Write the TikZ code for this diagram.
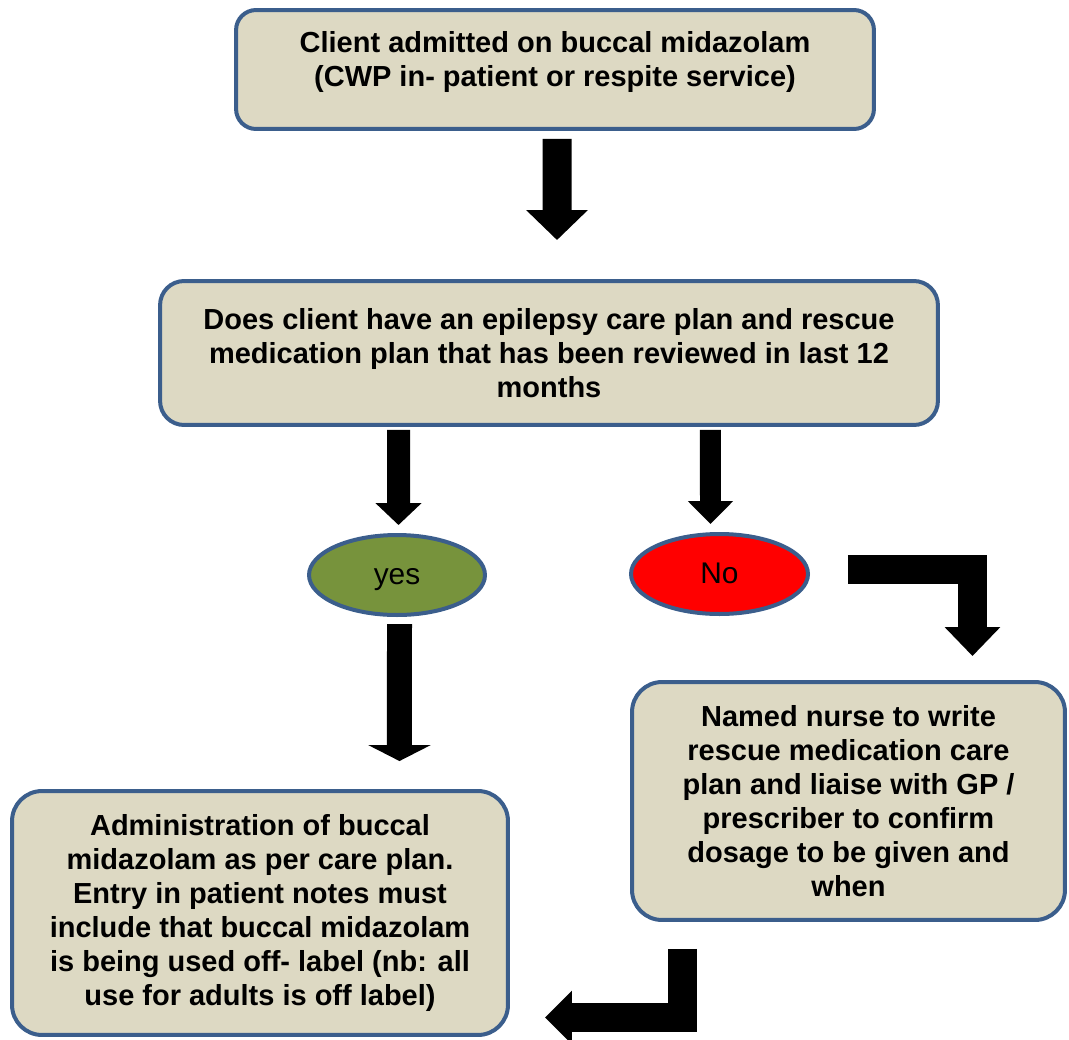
\documentclass[tikz,border=0pt]{standalone}
\usepackage{fontspec}
\setmainfont{Liberation Sans}
\usepackage{xcolor}
\usetikzlibrary{arrows.meta,shapes.geometric}

\definecolor{boxfill}{RGB}{221,217,195}
\definecolor{boxline}{RGB}{59,94,140}
\definecolor{yesgreen}{RGB}{119,147,60}
\definecolor{nored}{RGB}{255,0,0}

\tikzset{
  stepbox/.style={draw=boxline, fill=boxfill, line width=0.08cm, rounded corners=#1,
    align=center, inner sep=0pt, font=\fontsize{16.5}{19.3}\selectfont\bfseries},
  answer/.style={ellipse, draw=boxline, line width=0.08cm, inner sep=0pt,
    text height=1.2em, text depth=0.1em,
    minimum width=3.52cm, minimum height=1.6cm, font=\fontsize{17}{20}\selectfont},
  blockarr/.style={draw=black, line width=0.58cm, line join=miter,
    -{Triangle[width=1.2cm,length=0.6cm]}}
}

\begin{document}
\begin{tikzpicture}[x=0.02cm,y=-0.02cm]
\useasboundingbox (0,0) rectangle (1069,1039);

\node[stepbox=0.4cm, minimum width=12.76cm, minimum height=2.38cm] (admit) at (555,69.5)
  {Client admitted on buccal midazolam\\(CWP in- patient or respite service)\\[-7pt]\mbox{}};
\node[stepbox=0.48cm, minimum width=15.56cm, minimum height=2.88cm] (plan) at (549,353)
  {Does client have an epilepsy care plan and rescue\\medication plan that has been reviewed in last 12\\months};
\node[answer, fill=yesgreen] (yes) at (397,575) {yes};
\node[answer, fill=nored, minimum width=3.54cm] (no) at (719.5,574) {No};
\node[stepbox=0.6cm, minimum width=9.92cm, minimum height=4.88cm] (admin) at (260,913)
  {Administration of buccal\\midazolam as per care plan.\\Entry in patient notes must\\include that buccal midazolam\\is being used off- label (nb: all\\use for adults is off label)};
\node[stepbox=0.6cm, minimum width=8.66cm, minimum height=4.76cm] (nurse) at (848.5,801)
  {Named nurse to write\\rescue medication care\\plan and liaise with GP /\\prescriber to confirm\\dosage to be given and\\when};

\draw[blockarr] ([xshift=0.04cm,yshift=-0.16cm]admit.south) -- ([xshift=0.16cm,yshift=0.78cm]plan.north);
\draw[blockarr, line width=0.46cm, -{Triangle[width=0.9cm,length=0.44cm]}]
  ([xshift=-3.01cm,yshift=-0.06cm]plan.south) -- ([xshift=0.03cm,yshift=0.16cm]yes.north);
\draw[blockarr, line width=0.42cm, -{Triangle[width=0.88cm,length=0.46cm]}]
  ([xshift=3.23cm,yshift=-0.06cm]plan.south) -- ([xshift=-0.18cm,yshift=0.16cm]no.north);
\draw[blockarr, line width=0.5cm, -{Triangle[width=1.24cm,length=0.32cm]}]
  ([xshift=0.05cm,yshift=-0.14cm]yes.south) -- ([xshift=2.79cm,yshift=0.56cm]admin.north);
\draw[blockarr, -{Triangle[width=1.08cm,length=0.58cm]}]
  ([xshift=0.76cm,yshift=0.09cm]no.east) -| ([xshift=2.48cm,yshift=0.48cm]nurse.north);
\draw[blockarr, -{Triangle[width=1.04cm,length=0.54cm]}]
  ([xshift=-3.32cm,yshift=-0.54cm]nurse.south) |- ([xshift=0.7cm,yshift=-2.09cm]admin.east);
\end{tikzpicture}
\end{document}
